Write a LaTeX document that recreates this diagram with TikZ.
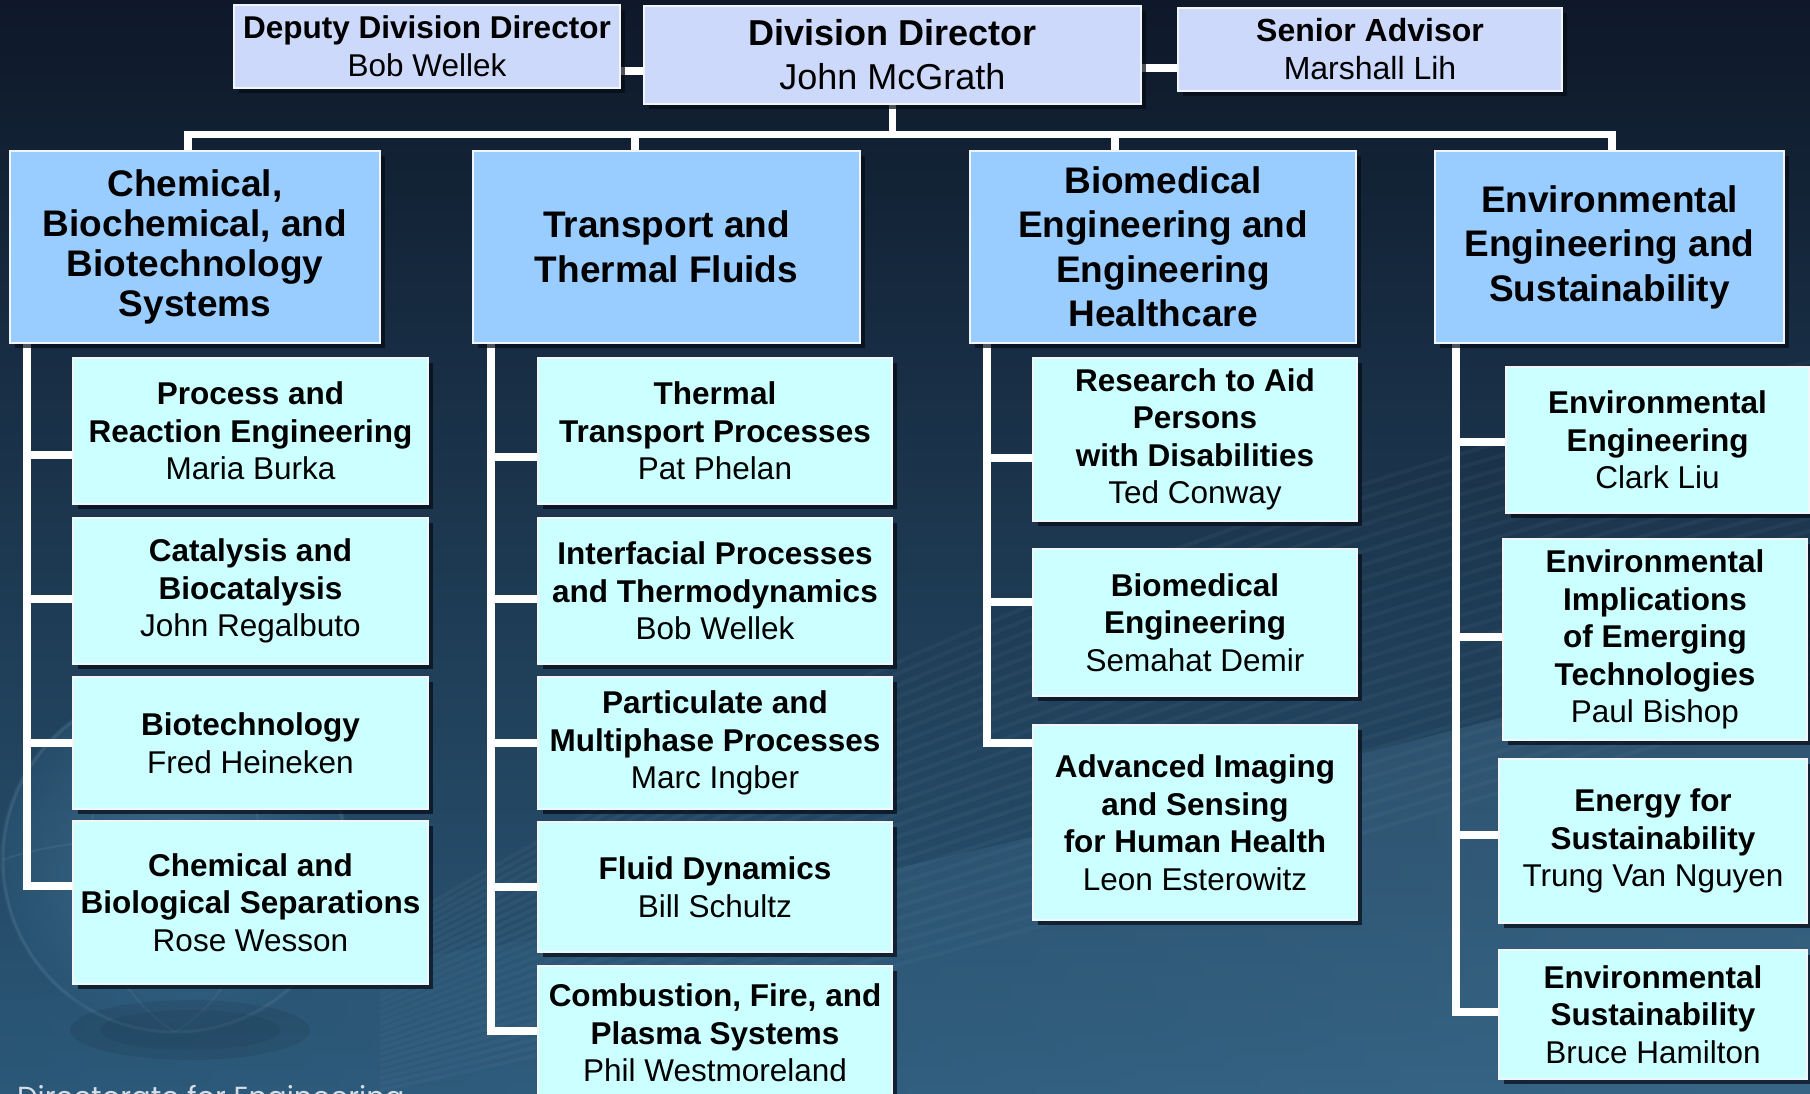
\documentclass[tikz,border=0pt]{standalone}
\usepackage{fontspec}
\setmainfont{Liberation Sans}
\newfontfamily\dirfont{Poppins}
\usetikzlibrary{shadows}
\definecolor{bgtop}{HTML}{0E1829}
\definecolor{bgmid}{HTML}{1A2F4C}
\definecolor{bgbot}{HTML}{2B5878}
\definecolor{globec}{HTML}{5E8FB0}
\definecolor{topfill}{HTML}{CCD9FA}
\definecolor{headfill}{HTML}{99CCFF}
\definecolor{subfill}{HTML}{CCFFFF}
\definecolor{boxedge}{HTML}{F2F5F8}
\definecolor{shadowc}{HTML}{050B16}
\definecolor{dirtext}{HTML}{D5DDE6}
\pgfdeclarelayer{bglayer}
\pgfdeclarelayer{connlayer}
\pgfsetlayers{bglayer,connlayer,main}
\begin{document}
\begin{tikzpicture}[x=1pt,y=-1pt,
  box/.style={rectangle, draw=boxedge, line width=2.5pt, inner sep=0pt, align=center, text=black,
    drop shadow={shadow xshift=5pt, shadow yshift=-5pt, fill=shadowc, opacity=0.7}},
  topbox/.style={box, fill=topfill},
  headbox/.style={box, fill=headfill, minimum height=192pt, font=\bfseries\fontsize{37}{44.5}\selectfont},
  subbox/.style={box, fill=subfill, font=\fontsize{31.5}{37.5}\selectfont},
  conn/.style={draw=white, line width=7.5pt, line cap=rect, line join=miter},
  streak/.style={draw=white, opacity=0.035, line width=4pt}
]
\useasboundingbox (0,0) rectangle (1810,1094);

% ---------- top level ----------
\node[topbox, minimum width=386pt, minimum height=83pt, font=\fontsize{31.5}{38}\selectfont] (dep) at (427,46.5)
  {\textbf{Deputy Division Director}\\Bob Wellek};
\node[topbox, minimum width=497pt, minimum height=98pt, font=\fontsize{36}{44}\selectfont] (dir) at (892.5,55)
  {\textbf{Division Director}\\John McGrath};
\node[topbox, minimum width=384pt, minimum height=83pt, font=\fontsize{32}{38}\selectfont] (sen) at (1370,49.5)
  {\textbf{Senior Advisor}\\Marshall Lih};

% ---------- column headers ----------
\node[headbox, minimum width=370pt, font=\bfseries\fontsize{37}{40}\selectfont] (h1) at (195,247)
  {Chemical,\\Biochemical, and\\Biotechnology\\Systems};
\node[headbox, minimum width=387pt] (h2) at (666.5,247) {Transport and\\Thermal Fluids};
\node[headbox, minimum width=386pt] (h3) at (1163,247) {Biomedical\\Engineering and\\Engineering\\Healthcare};
\node[headbox, minimum width=349pt] (h4) at (1609.5,247) {Environmental\\Engineering and\\Sustainability};

% ---------- column 1 ----------
\node[subbox, minimum width=355pt, minimum height=146pt] (b11) at (250.5,431)
  {\textbf{Process and}\\\textbf{Reaction Engineering}\\Maria Burka};
\node[subbox, minimum width=355pt, minimum height=146pt] (b12) at (250.5,591)
  {\textbf{Catalysis and}\\\textbf{Biocatalysis}\\John Regalbuto};
\node[subbox, minimum width=355pt, minimum height=132pt] (b13) at (250.5,743)
  {\textbf{Biotechnology}\\Fred Heineken};
\node[subbox, minimum width=355pt, minimum height=163pt] (b14) at (250.5,902.5)
  {\textbf{Chemical and}\\\textbf{Biological Separations}\\Rose Wesson};

% ---------- column 2 ----------
\node[subbox, minimum width=354pt, minimum height=146pt] (b21) at (715,431)
  {\textbf{Thermal}\\\textbf{Transport Processes}\\Pat Phelan};
\node[subbox, minimum width=354pt, minimum height=146pt] (b22) at (715,591)
  {\textbf{Interfacial Processes}\\\textbf{and Thermodynamics}\\Bob Wellek};
\node[subbox, minimum width=354pt, minimum height=132pt] (b23) at (715,743)
  {\textbf{Particulate and}\\\textbf{Multiphase Processes}\\Marc Ingber};
\node[subbox, minimum width=354pt, minimum height=130pt] (b24) at (715,887)
  {\textbf{Fluid Dynamics}\\Bill Schultz};
\node[subbox, minimum width=354pt, minimum height=134pt] (b25) at (715,1033)
  {\textbf{Combustion, Fire, and}\\\textbf{Plasma Systems}\\Phil Westmoreland};

% ---------- column 3 ----------
\node[subbox, minimum width=324pt, minimum height=163pt] (b31) at (1195,439.5)
  {\textbf{Research to Aid}\\\textbf{Persons}\\\textbf{with Disabilities}\\Ted Conway};
\node[subbox, minimum width=324pt, minimum height=147pt] (b32) at (1195,622.5)
  {\textbf{Biomedical}\\\textbf{Engineering}\\Semahat Demir};
\node[subbox, minimum width=324pt, minimum height=195pt] (b33) at (1195,822.5)
  {\textbf{Advanced Imaging}\\\textbf{and Sensing}\\\textbf{for Human Health}\\Leon Esterowitz};

% ---------- column 4 ----------
\node[subbox, minimum width=303pt, minimum height=146pt] (b41) at (1657.5,440)
  {\textbf{Environmental}\\\textbf{Engineering}\\Clark Liu};
\node[subbox, minimum width=304pt, minimum height=201pt] (b42) at (1655,639.5)
  {\textbf{Environmental}\\\textbf{Implications}\\\textbf{of Emerging}\\\textbf{Technologies}\\Paul Bishop};
\node[subbox, minimum width=308pt, minimum height=164pt] (b43) at (1653,841)
  {\textbf{Energy for}\\\textbf{Sustainability}\\Trung Van Nguyen};
\node[subbox, minimum width=308pt, minimum height=129pt] (b44) at (1653,1014.5)
  {\textbf{Environmental}\\\textbf{Sustainability}\\Bruce Hamilton};

% ---------- footer text ----------
\node[anchor=base west, inner sep=0pt, font=\dirfont\fontsize{29}{29}\selectfont, text=dirtext] (foot) at (17,1107)
  {Directorate for Engineering};

% ---------- connectors ----------
\begin{pgfonlayer}{connlayer}
\coordinate (bar) at (892.5,134.5);
\draw[conn] (dir.south) -- (bar);
\draw[conn] (bar) -| ([xshift=-7pt]h1.north);
\draw[conn] (bar) -| ([xshift=-31.5pt]h2.north);
\draw[conn] (bar) -| ([xshift=-48pt]h3.north);
\draw[conn] (bar) -| ([xshift=2.5pt]h4.north);
\draw[conn] ([yshift=-24.5pt]dep.east) -- ([yshift=-16pt]dir.west);
\draw[conn] ([yshift=-13pt]dir.east) -- ([yshift=-18.5pt]sen.west);
% column 1
\draw[conn] ([xshift=-168pt]h1.south) |- ([yshift=-24pt]b11.west);
\draw[conn] ([xshift=-168pt]h1.south) |- ([yshift=-8pt]b12.west);
\draw[conn] ([xshift=-168pt]h1.south) |- (b13.west);
\draw[conn] ([xshift=-168pt]h1.south) |- ([yshift=16.5pt]b14.west);
% column 2
\draw[conn] ([xshift=-175.5pt]h2.south) |- ([yshift=-26pt]b21.west);
\draw[conn] ([xshift=-175.5pt]h2.south) |- ([yshift=-8pt]b22.west);
\draw[conn] ([xshift=-175.5pt]h2.south) |- (b23.west);
\draw[conn] ([xshift=-175.5pt]h2.south) |- (b24.west);
\draw[conn] ([xshift=-175.5pt]h2.south) |- ([yshift=2pt]b25.west);
% column 3
\draw[conn] ([xshift=-176pt]h3.south) |- ([yshift=-18.5pt]b31.west);
\draw[conn] ([xshift=-176pt]h3.south) |- ([yshift=20.5pt]b32.west);
\draw[conn] ([xshift=-176pt]h3.south) |- ([yshift=79.5pt]b33.west);
% column 4
\draw[conn] ([xshift=-153.5pt]h4.south) |- ([yshift=-2pt]b41.west);
\draw[conn] ([xshift=-153.5pt]h4.south) |- ([yshift=2.5pt]b42.west);
\draw[conn] ([xshift=-153.5pt]h4.south) |- ([yshift=6pt]b43.west);
\draw[conn] ([xshift=-153.5pt]h4.south) |- ([yshift=2.5pt]b44.west);
\end{pgfonlayer}

% ---------- background ----------
\begin{pgfonlayer}{bglayer}
\shade[top color=bgtop, middle color=bgmid, bottom color=bgbot] (0,0) rectangle (1810,1094);
\shade[inner color=globec, outer color=bgbot, opacity=0.45] (175,860) circle[radius=175];
\draw[white, opacity=0.08, line width=3pt] (175,860) circle[radius=172];
\draw[white, opacity=0.06, line width=2pt] (175,688) .. controls (60,760) and (60,960) .. (175,1032);
\draw[white, opacity=0.06, line width=2pt] (175,688) .. controls (290,760) and (290,960) .. (175,1032);
\draw[white, opacity=0.06, line width=2pt] (3,860) .. controls (80,830) and (270,830) .. (347,860);
\fill[shadowc, opacity=0.12] (190,1030) ellipse[x radius=120, y radius=30];
\fill[shadowc, opacity=0.1] (190,1030) ellipse[x radius=90, y radius=20];
\foreach \i in {0,...,26} {
  \draw[streak] (380,1090-\i*6) .. controls (900,980-\i*14) and (1400,820-\i*14) .. (1810,700-\i*13);
}
\shade[left color=bgbot, right color=globec, opacity=0.25] (0,1000) .. controls (700,960) and (1300,760) .. (1810,640) -- (1810,1094) -- (0,1094) -- cycle;
\end{pgfonlayer}
\end{tikzpicture}
\end{document}
